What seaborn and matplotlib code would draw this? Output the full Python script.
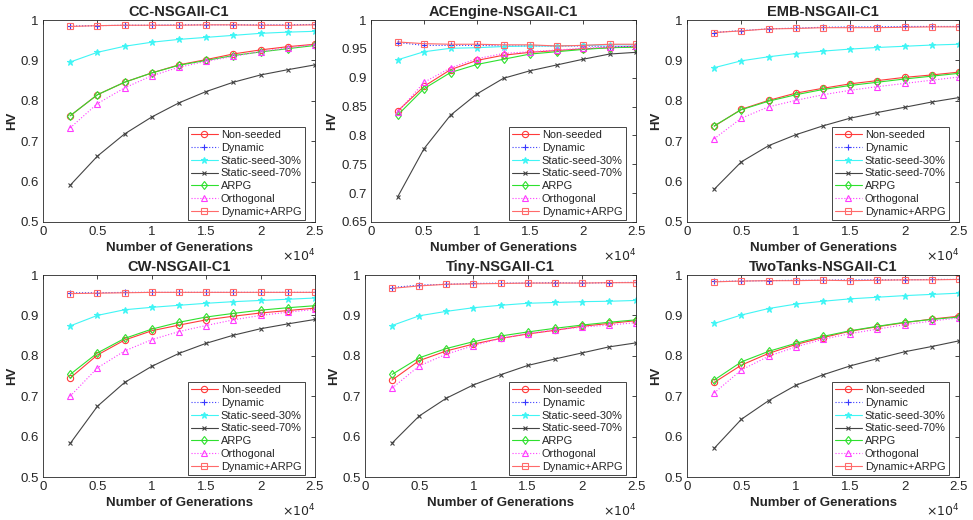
import numpy as np
import pandas as pd
import matplotlib
matplotlib.use("Agg")
import matplotlib.pyplot as plt
import seaborn as sns

generations = [2500, 5000, 7500, 10000, 12500, 15000, 17500, 20000, 22500, 25000]
series_names = ["Non-seeded", "Dynamic", "Static-seed-30%", "Static-seed-70%",
                "ARPG", "Orthogonal", "Dynamic+ARPG"]
titles = ["CC-NSGAII-C1", "ACEngine-NSGAII-C1", "EMB-NSGAII-C1",
          "CW-NSGAII-C1", "Tiny-NSGAII-C1", "TwoTanks-NSGAII-C1"]
xtick_labels = ["0", "0.5", "1", "1.5", "2", "2.5"]

# CC
cc_nonseeded = [0.763, 0.815, 0.846, 0.869, 0.889, 0.902, 0.916, 0.926, 0.934, 0.940]
cc_dynamic = [0.985, 0.986, 0.987, 0.987, 0.988, 0.988, 0.988, 0.988, 0.988, 0.989]
cc_static30 = [0.896, 0.920, 0.935, 0.945, 0.952, 0.957, 0.962, 0.967, 0.970, 0.972]
cc_static70 = [0.591, 0.663, 0.718, 0.760, 0.795, 0.823, 0.846, 0.864, 0.877, 0.889]
cc_arpg = [0.763, 0.815, 0.846, 0.869, 0.888, 0.900, 0.912, 0.921, 0.929, 0.937]
cc_orth = [0.733, 0.793, 0.832, 0.862, 0.883, 0.898, 0.910, 0.922, 0.931, 0.939]
cc_dynarpg = [0.984, 0.986, 0.987, 0.987, 0.987, 0.988, 0.988, 0.987, 0.987, 0.988]

# ACEngine
ac_nonseeded = [0.842, 0.885, 0.914, 0.930, 0.939, 0.944, 0.947, 0.950, 0.952, 0.954]
ac_dynamic = [0.961, 0.956, 0.956, 0.956, 0.955, 0.955, 0.955, 0.955, 0.954, 0.954]
ac_static30 = [0.931, 0.945, 0.951, 0.952, 0.954, 0.955, 0.955, 0.956, 0.957, 0.957]
ac_static70 = [0.693, 0.777, 0.835, 0.872, 0.899, 0.912, 0.922, 0.932, 0.941, 0.944]
ac_arpg = [0.835, 0.881, 0.909, 0.923, 0.932, 0.941, 0.945, 0.949, 0.952, 0.953]
ac_orth = [0.840, 0.892, 0.917, 0.933, 0.942, 0.945, 0.948, 0.951, 0.953, 0.955]
ac_dynarpg = [0.962, 0.959, 0.958, 0.958, 0.957, 0.957, 0.955, 0.956, 0.958, 0.958]

# EMB
emb_nonseeded = [0.737, 0.779, 0.801, 0.819, 0.831, 0.842, 0.850, 0.858, 0.864, 0.871]
emb_dynamic = [0.969, 0.974, 0.978, 0.980, 0.982, 0.983, 0.983, 0.984, 0.984, 0.984]
emb_static30 = [0.882, 0.899, 0.909, 0.917, 0.923, 0.928, 0.932, 0.935, 0.938, 0.940]
emb_static70 = [0.581, 0.649, 0.689, 0.716, 0.738, 0.757, 0.771, 0.784, 0.797, 0.808]
emb_arpg = [0.738, 0.778, 0.799, 0.815, 0.828, 0.838, 0.846, 0.854, 0.861, 0.868]
emb_orth = [0.706, 0.757, 0.785, 0.801, 0.815, 0.826, 0.835, 0.843, 0.851, 0.859]
emb_dynarpg = [0.969, 0.973, 0.978, 0.979, 0.981, 0.981, 0.981, 0.982, 0.983, 0.983]

# CW
cw_nonseeded = [0.745, 0.802, 0.839, 0.862, 0.876, 0.889, 0.898, 0.906, 0.912, 0.918]
cw_dynamic = [0.956, 0.956, 0.957, 0.957, 0.957, 0.957, 0.957, 0.957, 0.957, 0.957]
cw_static30 = [0.874, 0.900, 0.914, 0.920, 0.925, 0.930, 0.934, 0.937, 0.940, 0.943]
cw_static70 = [0.583, 0.675, 0.734, 0.774, 0.806, 0.831, 0.851, 0.867, 0.879, 0.890]
cw_arpg = [0.754, 0.807, 0.843, 0.866, 0.883, 0.896, 0.905, 0.913, 0.919, 0.924]
cw_orth = [0.700, 0.770, 0.812, 0.840, 0.860, 0.875, 0.889, 0.900, 0.908, 0.915]
cw_dynarpg = [0.954, 0.955, 0.956, 0.957, 0.957, 0.957, 0.957, 0.957, 0.957, 0.957]

# Tiny
tiny_nonseeded = [0.740, 0.788, 0.812, 0.829, 0.843, 0.854, 0.863, 0.873, 0.880, 0.887]
tiny_dynamic = [0.969, 0.975, 0.977, 0.979, 0.980, 0.980, 0.981, 0.980, 0.981, 0.982]
tiny_static30 = [0.875, 0.899, 0.910, 0.919, 0.925, 0.930, 0.932, 0.934, 0.935, 0.937]
tiny_static70 = [0.584, 0.651, 0.695, 0.728, 0.753, 0.776, 0.792, 0.807, 0.822, 0.832]
tiny_arpg = [0.754, 0.795, 0.818, 0.835, 0.849, 0.859, 0.868, 0.876, 0.883, 0.889]
tiny_orth = [0.720, 0.775, 0.804, 0.825, 0.843, 0.855, 0.864, 0.871, 0.876, 0.882]
tiny_dynarpg = [0.967, 0.973, 0.977, 0.978, 0.979, 0.980, 0.980, 0.980, 0.981, 0.981]

# TwoTanks
tt_nonseeded = [0.734, 0.777, 0.806, 0.828, 0.845, 0.861, 0.872, 0.882, 0.891, 0.898]
tt_dynamic = [0.984, 0.985, 0.986, 0.987, 0.987, 0.988, 0.988, 0.988, 0.989, 0.989]
tt_static30 = [0.880, 0.901, 0.917, 0.928, 0.935, 0.941, 0.945, 0.949, 0.952, 0.955]
tt_static70 = [0.571, 0.643, 0.689, 0.727, 0.753, 0.775, 0.793, 0.810, 0.823, 0.837]
tt_arpg = [0.740, 0.785, 0.811, 0.831, 0.848, 0.862, 0.873, 0.883, 0.890, 0.896]
tt_orth = [0.708, 0.765, 0.799, 0.822, 0.841, 0.855, 0.866, 0.877, 0.886, 0.894]
tt_dynarpg = [0.983, 0.985, 0.986, 0.986, 0.987, 0.986, 0.987, 0.988, 0.988, 0.989]

panels = [
    [cc_nonseeded, cc_dynamic, cc_static30, cc_static70, cc_arpg, cc_orth, cc_dynarpg],
    [ac_nonseeded, ac_dynamic, ac_static30, ac_static70, ac_arpg, ac_orth, ac_dynarpg],
    [emb_nonseeded, emb_dynamic, emb_static30, emb_static70, emb_arpg, emb_orth, emb_dynarpg],
    [cw_nonseeded, cw_dynamic, cw_static30, cw_static70, cw_arpg, cw_orth, cw_dynarpg],
    [tiny_nonseeded, tiny_dynamic, tiny_static30, tiny_static70, tiny_arpg, tiny_orth, tiny_dynarpg],
    [tt_nonseeded, tt_dynamic, tt_static30, tt_static70, tt_arpg, tt_orth, tt_dynarpg],
]

styles = {
    "Non-seeded": dict(color="#ff3a3a", marker="o", linestyle="-", ms=4.5),
    "Dynamic": dict(color="#3a3aff", marker="+", linestyle=":", ms=5),
    "Static-seed-30%": dict(color="#40f5f5", marker="*", linestyle="-", ms=4.5),
    "Static-seed-70%": dict(color="#444444", marker="x", linestyle="-", ms=3.2),
    "ARPG": dict(color="#2ee02e", marker="d", linestyle="-", ms=4.5),
    "Orthogonal": dict(color="#ff3aff", marker="^", linestyle=":", ms=4.5),
    "Dynamic+ARPG": dict(color="#ff6a6a", marker="s", linestyle="-", ms=4),
}

sns.set_style("white")
plt.rcParams["font.family"] = ["Liberation Sans", "DejaVu Sans"]

fig = plt.figure(figsize=(9.73, 5.2), dpi=100)
W, H = 973, 520
boxes = [(43, 20, 315, 222), (371, 20, 636, 222), (687, 20, 959, 222),
         (43, 275, 315, 477), (365, 275, 636, 477), (687, 275, 959, 477)]
ylims = [(0.5, 1), (0.65, 1), (0.5, 1), (0.5, 1), (0.5, 1), (0.5, 1)]

for i, (vals, title, box, yl) in enumerate(zip(panels, titles, boxes, ylims)):
    l, t, r, b = box
    ax = fig.add_axes([l / W, 1 - b / H, (r - l) / W, (b - t) / H])
    for name, ys in zip(series_names, vals):
        st = styles[name]
        df = pd.DataFrame({"x": generations, "y": ys})
        mfc = st["color"] if name in ("Static-seed-30%",) else "none"
        sns.lineplot(data=df, x="x", y="y", ax=ax, color=st["color"], marker=st["marker"],
                     linestyle=st["linestyle"], lw=0.8, markersize=st["ms"],
                     markerfacecolor=mfc, markeredgecolor=st["color"], markeredgewidth=0.8,
                     label=name)
    ax.set_xlim(0, 25000)
    ax.set_ylim(*yl)
    ax.set_xticks(np.arange(0, 25001, 5000))
    ax.set_xticklabels(xtick_labels)
    if yl[0] == 0.65:
        yt = np.round(np.arange(0.65, 1.0001, 0.05), 2)
    else:
        yt = np.round(np.arange(0.5, 1.0001, 0.1), 1)
    ax.set_yticks(yt)
    ax.set_yticklabels([("%g" % v) for v in yt])
    ax.tick_params(direction="in", top=True, right=True, length=3, width=0.6,
                   labelsize=9.5, colors="#262626", pad=3)
    for sp in ax.spines.values():
        sp.set_color("#262626")
        sp.set_linewidth(0.6)
    ax.set_title(title, fontsize=10.5, fontweight="bold", pad=3)
    ax.set_xlabel("Number of Generations", fontsize=9.5, fontweight="bold", labelpad=3)
    ax.set_ylabel("HV", fontsize=9.5, fontweight="bold", labelpad=2)
    ax.text(1.0, -0.125, r"$\times10^{4}$", transform=ax.transAxes, ha="right", va="top",
            fontsize=9, color="#262626")
    leg = ax.legend(loc="lower right", bbox_to_anchor=(1 - 10 / (r - l), 2 / (b - t)),
                    fontsize=7.9, frameon=True, fancybox=False,
                    edgecolor="#262626", framealpha=1, borderpad=0.3, labelspacing=0.25,
                    handlelength=2.4, handletextpad=0.3, borderaxespad=0.0)
    leg.get_frame().set_linewidth(0.6)

fig.savefig("out.png", dpi=100)
